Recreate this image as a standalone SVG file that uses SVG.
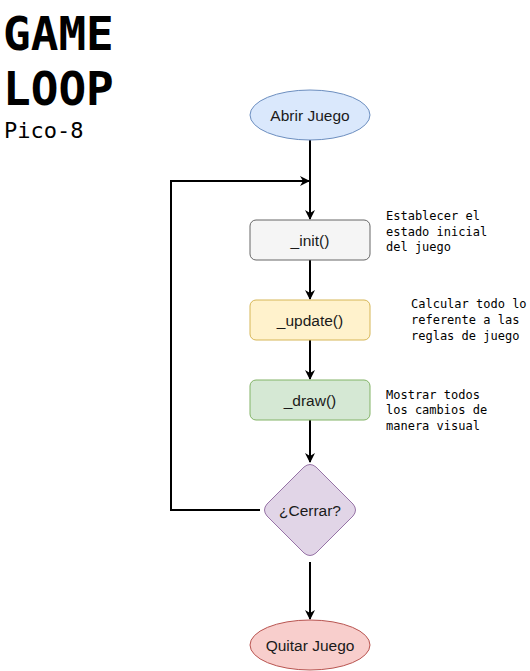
<svg xmlns="http://www.w3.org/2000/svg" width="530" height="671" viewBox="0 0 530 671">
<defs>
<marker id="arr" viewBox="0 0 10 10" refX="9" refY="5" markerWidth="10" markerHeight="10" markerUnits="userSpaceOnUse" orient="auto">
<path d="M0,0 L10,5 L0,10 L3,5 Z" fill="#000"/>
</marker>
<style>
.lbl{font-family:"Liberation Sans",Arial,sans-serif;font-size:15.5px;fill:#1a1a1a;text-anchor:middle;dominant-baseline:central}
.note{font-family:"DejaVu Sans Mono","Liberation Mono",monospace;font-size:12px;fill:#000}
.title{font-family:"DejaVu Sans Mono","Liberation Mono",monospace;font-weight:bold;font-size:46px;fill:#000}
.conn{fill:none;stroke:#000;stroke-width:2}
</style>
</defs>
<g id="title">
<text class="title" x="3" y="50">GAME</text>
<text class="title" x="3" y="105">LOOP</text>
<text x="4" y="138" style="font-family:'DejaVu Sans Mono','Liberation Mono',monospace;font-size:22px;fill:#000">Pico-8</text>
</g>
<g id="connectors">
<path class="conn" d="M310,140 L310,219" marker-end="url(#arr)"/>
<path class="conn" d="M310,260 L310,299" marker-end="url(#arr)"/>
<path class="conn" d="M310,340 L310,379" marker-end="url(#arr)"/>
<path class="conn" d="M310,420 L310,462" marker-end="url(#arr)"/>
<path class="conn" d="M260,510 L171,510 L171,181 L309,181" marker-end="url(#arr)"/>
<path class="conn" d="M310,562 L310,619" marker-end="url(#arr)"/>
</g>
<g id="abrir">
<ellipse cx="310" cy="115" rx="60" ry="25" fill="#dae8fc" stroke="#6c8ebf"/>
<text class="lbl" x="310" y="115">Abrir Juego</text>
</g>
<g id="init">
<rect x="250" y="220" width="120" height="40" rx="6" fill="#f5f5f5" stroke="#666666"/>
<text class="lbl" x="310" y="240">_init()</text>
</g>
<g id="update">
<rect x="250" y="300" width="120" height="40" rx="6" fill="#fff2cc" stroke="#d6b656"/>
<text class="lbl" x="310" y="320">_update()</text>
</g>
<g id="draw">
<rect x="250" y="380" width="120" height="40" rx="6" fill="#d5e8d4" stroke="#82b366"/>
<text class="lbl" x="310" y="400">_draw()</text>
</g>
<g id="cerrar">
<path d="M304,467 Q310,462 316,467 L353,504 Q358,510 353,516 L316,553 Q310,558 304,553 L267,516 Q262,510 267,504 Z" fill="#e1d5e7" stroke="#9673a6"/>
<text class="lbl" x="310" y="510">¿Cerrar?</text>
</g>
<g id="quitar">
<ellipse cx="310" cy="645" rx="60" ry="25" fill="#f8cecc" stroke="#b85450"/>
<text class="lbl" x="310" y="645">Quitar Juego</text>
</g>
<g id="note-init">
<text class="note" x="386" y="220">Establecer el</text>
<text class="note" x="386" y="236">estado inicial</text>
<text class="note" x="386" y="251">del juego</text>
</g>
<g id="note-update">
<text class="note" x="411" y="308">Calcular todo lo</text>
<text class="note" x="411" y="324">referente a las</text>
<text class="note" x="411" y="340">reglas de juego</text>
</g>
<g id="note-draw">
<text class="note" x="386" y="399">Mostrar todos</text>
<text class="note" x="386" y="414">los cambios de</text>
<text class="note" x="386" y="430">manera visual</text>
</g>
</svg>
